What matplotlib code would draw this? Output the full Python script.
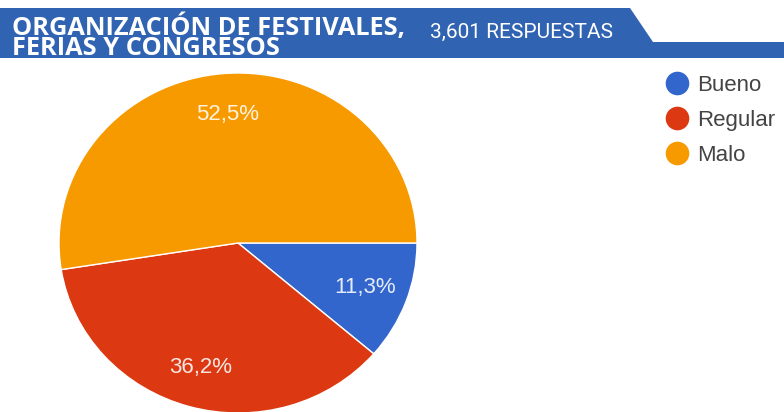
import matplotlib
matplotlib.use('Agg')
import matplotlib.pyplot as plt
from matplotlib.patches import Polygon
from matplotlib.lines import Line2D

# data
labels = ['Bueno', 'Regular', 'Malo']
values = [11.3, 36.2, 52.5]
colors = ['#3366CC', '#DC3912', '#F79A00']
title = 'ORGANIZACIÓN DE FESTIVALES,\nFERIAS Y CONGRESOS'
responses = '3,601 RESPUESTAS'

W, H = 784, 412
fig = plt.figure(figsize=(W / 100, H / 100), dpi=100)
fig.patch.set_facecolor('white')


def fx(px):
    return px / W


def fy(py):
    # pixel from top -> figure fraction
    return 1 - py / H


# header banner
banner = Polygon([(fx(0), fy(8)), (fx(630), fy(8)), (fx(653), fy(42)),
                  (fx(784), fy(42)), (fx(784), fy(58)), (fx(0), fy(58))],
                 closed=True, facecolor='#3163B3', edgecolor='none',
                 transform=fig.transFigure)
fig.patches.append(banner)
# multiline text: baseline alignment refers to the last line
fig.text(fx(12), fy(55), title, color='white', family='Open Sans',
         fontweight='bold', fontsize=18.3, va='baseline', ha='left',
         linespacing=0.72)
fig.text(fx(430), fy(38), responses, color='white', family='Roboto',
         fontsize=15, va='baseline', ha='left')

# pie
ax = fig.add_axes([fx(59), fy(243 + 170), fx(358), 340 / H])
wedges, texts, autotexts = ax.pie(
    values, colors=colors, startangle=0, counterclock=False,
    autopct=lambda p: f'{p:.1f}%'.replace('.', ','), pctdistance=0.76,
    wedgeprops={'edgecolor': 'white', 'linewidth': 1},
    textprops={'color': 'white', 'alpha': 0.88, 'fontsize': 16,
               'family': 'Liberation Sans'})
ax.set_aspect('auto')
ax.set_xlim(-1, 1)
ax.set_ylim(-1, 1)
ax.axis('off')

# legend with round markers
handles = [Line2D([], [], linestyle='none', marker='o', markersize=17,
                  markerfacecolor=c, markeredgecolor='none') for c in colors]
leg = fig.legend(handles, labels, loc='upper left',
                 bbox_to_anchor=(fx(653), fy(64)), frameon=False,
                 handlelength=1.2, handletextpad=0.3, borderpad=0,
                 labelspacing=0.62, labelcolor='#444444',
                 prop={'family': 'Liberation Sans', 'size': 16})

plt.savefig('out.png', dpi=100)
